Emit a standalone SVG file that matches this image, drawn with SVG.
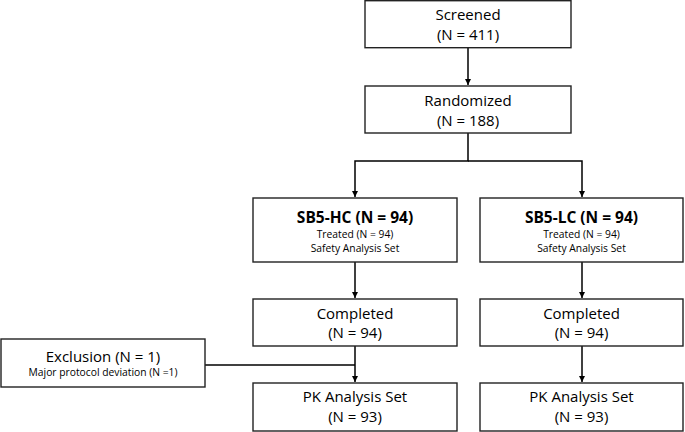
<svg xmlns="http://www.w3.org/2000/svg" width="685" height="432" viewBox="0 0 685 432">
<defs>
<marker id="ah" viewBox="0 0 10 10" refX="10" refY="5" markerWidth="6" markerHeight="6" markerUnits="userSpaceOnUse" orient="auto">
<path d="M0,0 L10,5 L0,10 z" fill="#000"/>
</marker>
<style>
.box{fill:#fff;stroke:#222;stroke-width:1.4}
.t{font-family:"Open Sans","Noto Sans",sans-serif;font-size:15px;fill:#000;text-anchor:middle}
.b{font-family:"Open Sans","Noto Sans",sans-serif;font-size:15.5px;font-weight:bold;fill:#000;text-anchor:middle}
.s{font-family:"Open Sans","Noto Sans",sans-serif;font-size:10.3px;fill:#000;text-anchor:middle}
.c{fill:none;stroke:#000;stroke-width:1.5}
</style>
</defs>
<rect width="685" height="432" fill="#fff"/>
<g id="connectors">
<path class="c" d="M468,47.5 V85" marker-end="url(#ah)"/>
<path class="c" d="M468,133 V161 H355 V197" marker-end="url(#ah)"/>
<path class="c" d="M468,161 H582 V197" marker-end="url(#ah)"/>
<path class="c" d="M355,262 V298" marker-end="url(#ah)"/>
<path class="c" d="M582,262 V298" marker-end="url(#ah)"/>
<path class="c" d="M355,346 V382" marker-end="url(#ah)"/>
<path class="c" d="M582,346 V382" marker-end="url(#ah)"/>
<path class="c" d="M205,365 H355"/>
</g>
<g id="screened">
<rect class="box" x="365" y="0.7" width="206" height="47"/>
<text class="t" x="468" y="20">Screened</text>
<text class="t" x="468" y="40">(N = 411)</text>
</g>
<g id="randomized">
<rect class="box" x="365" y="86" width="206" height="47"/>
<text class="t" x="468" y="105.5">Randomized</text>
<text class="t" x="468" y="125.5">(N = 188)</text>
</g>
<g id="sb5hc">
<rect class="box" x="253" y="198" width="204" height="64"/>
<text class="b" x="355" y="223">SB5-HC (N = 94)</text>
<text class="s" x="355" y="238">Treated (N = 94)</text>
<text class="s" x="355" y="252">Safety Analysis Set</text>
</g>
<g id="sb5lc">
<rect class="box" x="480" y="198" width="203" height="64"/>
<text class="b" x="581.5" y="223">SB5-LC (N = 94)</text>
<text class="s" x="581.5" y="238">Treated (N = 94)</text>
<text class="s" x="581.5" y="252">Safety Analysis Set</text>
</g>
<g id="completed-hc">
<rect class="box" x="253" y="299" width="204" height="47"/>
<text class="t" x="355" y="318.5">Completed</text>
<text class="t" x="355" y="338">(N = 94)</text>
</g>
<g id="completed-lc">
<rect class="box" x="480" y="299" width="203" height="47"/>
<text class="t" x="581.5" y="318.5">Completed</text>
<text class="t" x="581.5" y="338">(N = 94)</text>
</g>
<g id="exclusion">
<rect class="box" x="1" y="339" width="204" height="48"/>
<text class="t" x="103" y="361.5">Exclusion (N = 1)</text>
<text class="s" x="103" y="376">Major protocol deviation (N =1)</text>
</g>
<g id="pk-hc">
<rect class="box" x="253" y="383" width="204" height="48"/>
<text class="t" x="355" y="402">PK Analysis Set</text>
<text class="t" x="355" y="422">(N = 93)</text>
</g>
<g id="pk-lc">
<rect class="box" x="480" y="383" width="203" height="48"/>
<text class="t" x="581.5" y="402">PK Analysis Set</text>
<text class="t" x="581.5" y="422">(N = 93)</text>
</g>
</svg>
